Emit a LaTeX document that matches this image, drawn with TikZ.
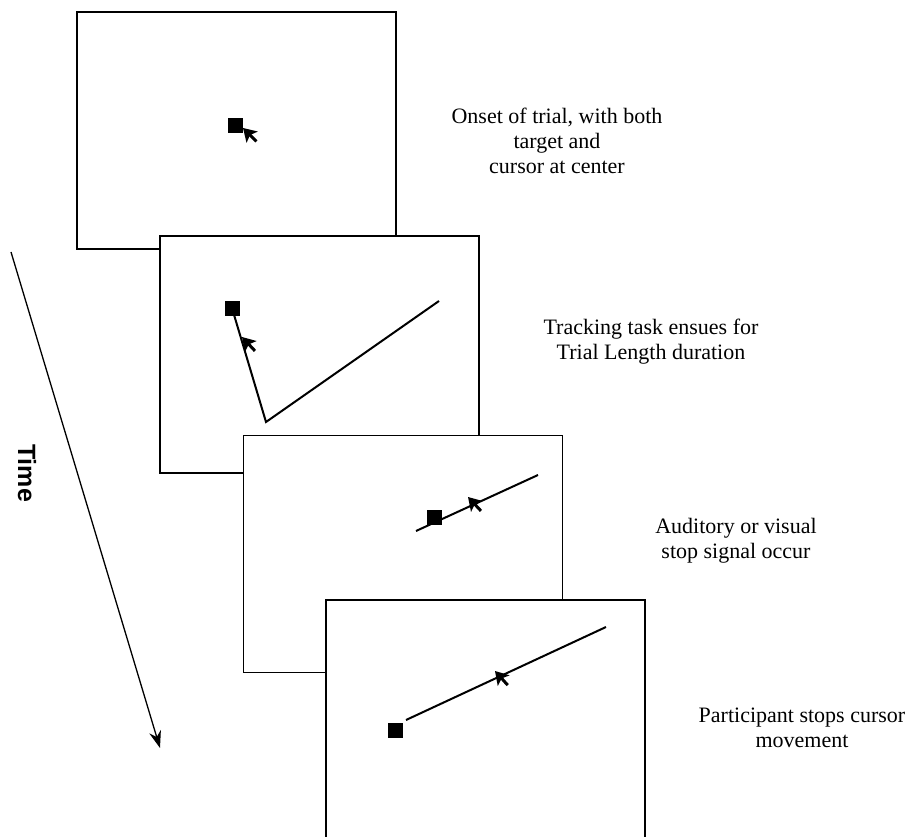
\documentclass[tikz,border=0pt]{standalone}
\usepackage{fontspec}
\setmainfont{Liberation Serif}
\setsansfont{Liberation Sans}
\usetikzlibrary{arrows.meta}

\begin{document}
\begin{tikzpicture}[
x=1pt, y=-1pt,
screen/.style={rectangle, draw, fill=white, line width=1.5pt, minimum width=319pt, minimum height=237pt, inner sep=0pt},
target/.style={rectangle, fill=black, minimum size=15pt, inner sep=0pt},
track/.style={line width=2pt},
pointer/.pic={
  \fill (0,0) -- (-8,13) -- (0,10) -- (8,13) -- cycle;
  \draw[line width=3pt] (0,9) -- (0,19);
},
caption/.style={align=center, font=\fontsize{22}{25}\selectfont},
timearrow/.style={-{Stealth[length=17pt, width=12pt]}, line width=1.3pt}
]

\useasboundingbox (0,0) rectangle (908,837);
\clip (0,0) rectangle (908,837);

\node[screen] (S1) at (236.5,130.5) {};
\node[target] (T1) at (235.5,125.5) {};
\pic[rotate=45] (P1) at (243,128) {pointer};

\node[screen] (S2) at (319.5,354.5) {};
\node[target] (T2) at (232,308) {};
\coordinate (V2) at (266,422);
\coordinate (E2) at (439,301);
\draw[track] (T2) -- (V2) -- (E2);
\pic[rotate=43] (P2) at (242,337) {pointer};

\node[screen] (S3) at (403,554) {};
\coordinate (L3a) at (416,531);
\coordinate (L3b) at (538,475);
\draw[track] (L3a) -- (L3b);
\node[target] (T3) at (434.5,517.5) {};
\pic[rotate=43] (P3) at (468,497) {pointer};

\node[screen, minimum height=337pt] (S4) at (485.5,768.5) {};
\node[target] (T4) at (395,730) {};
\coordinate (L4a) at (406,720);
\coordinate (L4b) at (606,627);
\draw[track] (L4a) -- (L4b);
\pic[rotate=42] (P4) at (495,671) {pointer};

\node[caption] (C1) at (557,141) {Onset of trial, with both\\target and\\cursor at center};
\node[caption] (C2) at (651,342) {Tracking task ensues for\\Trial Length duration};
\node[caption] (C3) at (736,541) {Auditory or visual\\stop signal occur};
\node[caption] (C4) at (802,728) {Participant stops cursor\\movement};

\coordinate (TA) at (11,252);
\coordinate (TB) at (160,748);
\draw[timearrow] (TA) -- (TB);
\node[font=\sffamily\bfseries\fontsize{25}{30}\selectfont, rotate=-90] (TL) at (27,473) {Time};

\end{tikzpicture}
\end{document}
